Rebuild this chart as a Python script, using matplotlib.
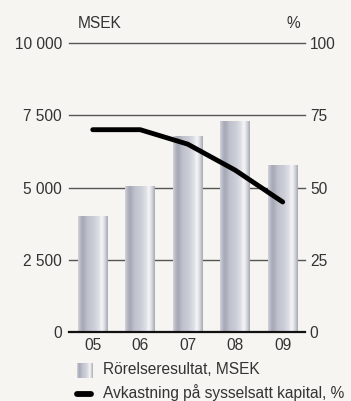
import matplotlib.pyplot as plt
import numpy as np
from matplotlib.colors import LinearSegmentedColormap
from matplotlib.lines import Line2D

plt.rcParams['font.family'] = ['Liberation Sans', 'DejaVu Sans']

years = ["05", "06", "07", "08", "09"]
rorelseresultat = [4000, 5050, 6750, 7300, 5750]   # MSEK
avkastning = [70, 70, 65, 56, 45]                   # %

left_ticks = [0, 2500, 5000, 7500, 10000]
left_labels = ["0", "2 500", "5 000", "7 500", "10 000"]
right_ticks = [0, 25, 50, 75, 100]

bg = "#f6f5f1"
txt = "#333333"
fs = 11.2

# metallic cylinder look for the bars
cyl = LinearSegmentedColormap.from_list("cyl", [
    (0.0, "#d2d3d9"), (0.08, "#b4b6c2"), (0.16, "#a5a8b6"),
    (0.32, "#bfc1cc"), (0.55, "#cdcfd8"), (0.70, "#dfe0e6"),
    (0.80, "#f6f6f8"), (0.89, "#dcdde3"), (1.0, "#a8aab6")])
grad = np.linspace(0, 1, 64).reshape(1, -1)

fig = plt.figure(figsize=(3.51, 4.01), dpi=100, facecolor=bg)
ax = fig.add_axes([69/351, 1 - 332/401, 236/351, 289/401])
ax.set_facecolor(bg)

x = np.arange(len(years))
w = 0.63
for xi, v in zip(x, rorelseresultat):
    ax.imshow(grad, cmap=cyl, extent=(xi - w/2, xi + w/2, 0, v),
              aspect='auto', zorder=2, interpolation='bilinear')

for t in left_ticks[1:]:
    ax.axhline(t, color="#555555", lw=1.0, zorder=1, clip_on=False)
ax.axhline(0, color="#111111", lw=1.6, zorder=3, clip_on=False)

ax.set_xlim(-0.5, 4.47)
ax.set_ylim(0, 10000)
ax.set_xticks(x)
ax.set_xticklabels(years)
ax.set_yticks(left_ticks)
ax.set_yticklabels(left_labels)
ax.tick_params(axis='both', length=0, labelsize=fs, colors=txt)
ax.tick_params(axis='y', pad=5)
ax.tick_params(axis='x', pad=4)
for s in ax.spines.values():
    s.set_visible(False)

ax2 = ax.twinx()
ax2.plot(x, avkastning, color="black", lw=3.5, solid_capstyle='round',
         solid_joinstyle='round', zorder=5)
ax2.set_ylim(0, 100)
ax2.set_yticks(right_ticks)
ax2.tick_params(axis='y', length=0, labelsize=fs, colors=txt, pad=3.5)
for s in ax2.spines.values():
    s.set_visible(False)

fig.text(78/351, 1 - 23/401, "MSEK", fontsize=fs, color=txt, va='center')
fig.text(300/351, 1 - 23/401, "%", fontsize=fs, color=txt, va='center', ha='right')

# legend
icon = fig.add_axes([77/351, 1 - 378/401, 16/351, 15/401])
icon.imshow(grad, cmap=cyl, aspect='auto', interpolation='bilinear')
icon.axis('off')
fig.text(103/351, 1 - 370/401, "Rörelseresultat, MSEK", fontsize=fs,
         color=txt, va='center')
fig.add_artist(Line2D([77/351, 91/351], [1 - 394/401, 1 - 394/401],
                      color="black", lw=4.2, solid_capstyle='round'))
fig.text(103/351, 1 - 393/401, "Avkastning på sysselsatt kapital, %",
         fontsize=fs, color=txt, va='center')

fig.savefig("out.png", dpi=100, facecolor=bg)
